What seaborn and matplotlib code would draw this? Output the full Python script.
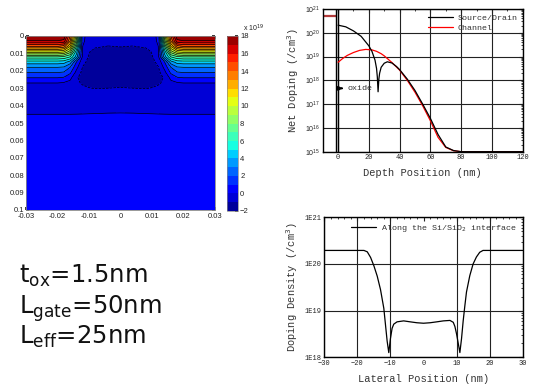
import numpy as np
import pandas as pd
import matplotlib
matplotlib.use("Agg")
import matplotlib.pyplot as plt
import seaborn as sns
from matplotlib.ticker import MultipleLocator, LogLocator, NullFormatter, FixedLocator

sns.set_theme(style="white")
plt.rcParams["font.family"] = ["Liberation Sans", "DejaVu Sans"]
plt.rcParams["mathtext.fontset"] = "dejavusans"

# ---------------- 2D net doping map (units of 1e19 /cm^3), left half ----------------
map_x_left = [-0.030, -0.020, -0.018, -0.016, -0.014, -0.012, -0.010, -0.008, -0.004, 0.0]
map_depth = [0.0, 0.003, 0.006, 0.009, 0.012, 0.015, 0.018, 0.021, 0.024, 0.027,
             0.030, 0.033, 0.040, 0.044, 0.047, 0.060, 0.100]
map_left = [
    [17.95, 17.95, 17.9, 14.0, 8.5, 0.3, -0.5, -0.5, -0.5, -0.5],
    [16.9, 16.9, 16.6, 13.0, 7.5, 0.2, -0.5, -0.5, -0.5, -0.5],
    [14.0, 14.0, 13.5, 11.0, 6.0, 0.0, -0.6, -0.8, -1.05, -0.95],
    [10.5, 10.5, 10.2, 8.5, 4.5, -0.1, -0.9, -1.5, -1.5, -1.5],
    [7.0, 7.0, 6.8, 6.0, 3.5, -0.2, -1.1, -1.5, -1.5, -1.5],
    [4.5, 4.5, 4.4, 3.5, 1.0, -0.7, -1.3, -1.5, -1.5, -1.5],
    [3.0, 3.0, 2.9, 2.0, 0.3, -1.05, -1.5, -1.5, -1.5, -1.5],
    [2.0, 2.0, 1.9, 1.2, -0.3, -1.3, -1.5, -1.5, -1.5, -1.5],
    [1.0, 1.0, 0.9, 0.3, -0.9, -1.3, -1.5, -1.5, -1.5, -1.5],
    [0.0, 0.0, -0.1, -0.3, -0.7, -1.2, -1.4, -1.5, -1.5, -1.5],
    [-0.5, -0.5, -0.5, -0.5, -0.55, -0.7, -0.95, -1.05, -1.0, -0.9],
    [-0.5, -0.5, -0.5, -0.5, -0.5, -0.5, -0.5, -0.5, -0.5, -0.5],
    [-0.5, -0.5, -0.5, -0.5, -0.5, -0.5, -0.5, -0.5, -0.5, -0.5],
    [-0.2, -0.2, -0.2, -0.2, -0.18, -0.15, -0.12, -0.1, -0.05, -0.03],
    [0.4, 0.4, 0.4, 0.4, 0.4, 0.4, 0.4, 0.4, 0.4, 0.4],
    [0.5, 0.5, 0.5, 0.5, 0.5, 0.5, 0.5, 0.5, 0.5, 0.5],
    [0.5, 0.5, 0.5, 0.5, 0.5, 0.5, 0.5, 0.5, 0.5, 0.5],
]
map_levels = list(range(-2, 19))
cbar_ticks = list(range(-2, 19, 2))
map_xticks = [-0.03, -0.02, -0.01, 0, 0.01, 0.02, 0.03]
map_xticklabels = ["-0.03", "-0.02", "-0.01", "0", "0.01", "0.02", "0.03"]
map_yticks = [0, 0.01, 0.02, 0.03, 0.04, 0.05, 0.06, 0.07, 0.08, 0.09, 0.1]
map_yticklabels = ["0", "0.01", "0.02", "0.03", "0.04", "0.05", "0.06", "0.07", "0.08", "0.09", "0.1"]

# ---------------- depth profiles ----------------
sd_x = [0, 5, 10, 15, 20, 22, 24, 25, 25.5, 26, 26.5, 27, 28, 30, 32, 35, 38, 40,
        45, 50, 55, 60, 65, 70, 75, 80, 90, 100, 110, 120]
sd_val = [2.09e20, 1.78e20, 1.20e20, 7.08e19, 2.82e19, 1.66e19, 7.08e18, 3.16e18, 1.41e18,
          3.31e17, 1.12e18, 2.0e18, 3.55e18, 5.25e18, 6.03e18, 5.37e18, 3.80e18, 2.82e18,
          1.12e18, 3.72e17, 1.0e17, 2.51e16, 5.25e15, 1.58e15, 1.12e15, 1.0e15, 1.0e15,
          1.0e15, 1.0e15, 1.0e15]
ch_x = [0, 3, 6, 10, 14, 18, 22, 25, 28, 30, 35, 40, 45, 50, 55, 60, 65, 70, 75, 80,
        90, 100, 110, 120]
ch_val = [5.75e18, 8.32e18, 1.12e19, 1.48e19, 1.82e19, 2.0e19, 1.91e19, 1.66e19, 1.32e19,
          1.07e19, 5.62e18, 2.69e18, 1.0e18, 3.16e17, 8.51e16, 2.0e16, 3.98e15, 1.51e15,
          1.10e15, 1.0e15, 1.0e15, 1.0e15, 1.0e15, 1.0e15]
gate_x = [-10, -1.5]
gate_val = [5.2e20, 5.2e20]
oxide_edges = [-1.5, 0.0]
oxide_arrow_x = [0.6, 5.0]
oxide_arrow_y = 4.6e17

# ---------------- lateral profile ----------------
lat_x = [-30, -18, -17, -16, -15, -14, -13, -12, -11.5, -11, -10.5, -10, -9.5, -9, -8, -6,
         -4, -2, 0, 2, 4, 6, 8, 9, 9.5, 10, 10.5, 11, 11.5, 12, 12.5, 13, 14, 15, 16, 17,
         18, 30]
lat_val = [1.95e20, 1.95e20, 1.82e20, 1.38e20, 9.12e19, 5.5e19, 2.82e19, 1.12e19, 5.01e18,
           2.24e18, 1.26e18, 2.51e18, 4.17e18, 5.13e18, 5.75e18, 6.03e18, 5.75e18, 5.5e18,
           5.37e18, 5.5e18, 5.75e18, 6.03e18, 6.17e18, 5.62e18, 4.57e18, 3.16e18, 2.0e18,
           1.26e18, 2.51e18, 6.03e18, 1.26e19, 2.51e19, 5.62e19, 1.0e20, 1.41e20, 1.78e20,
           1.95e20, 1.95e20]
lat_yticks = [1e18, 1e19, 1e20, 1e21]
lat_yticklabels = ["1E18", "1E19", "1E20", "1E21"]

W, H = 533, 385
fig = plt.figure(figsize=(W / 100, H / 100), dpi=100)
fig.patch.set_facecolor("white")


def rect(l, t, r, b):
    return [l / W, 1 - b / H, (r - l) / W, (b - t) / H]


# ---------------- panel 1: contour map ----------------
ax1 = fig.add_axes(rect(26, 36, 215, 210))
xs = np.array(map_x_left + [-v for v in map_x_left[-2::-1]])
Zl = np.array(map_left)
Z = np.hstack([Zl, Zl[:, -2::-1]])
cf = ax1.contourf(xs, map_depth, Z, levels=map_levels, cmap="jet")
ax1.contour(xs, map_depth, Z, levels=map_levels, colors="black", linewidths=0.5)
ax1.set_xlim(-0.03, 0.03)
ax1.set_ylim(0.1, 0)
ax1.set_xticks(map_xticks)
ax1.set_xticklabels(map_xticklabels)
ax1.set_yticks(map_yticks)
ax1.set_yticklabels(map_yticklabels)
ax1.tick_params(direction="in", length=2, labelsize=5.5, pad=1.5, colors="#222",
                top=True, right=True, bottom=True, left=True)
ax1.tick_params(axis="x", pad=2.5)
for s in ax1.spines.values():
    s.set_color("#888")
    s.set_linewidth(0.6)

cax = fig.add_axes(rect(227, 36, 238, 211))
cb = fig.colorbar(cf, cax=cax, ticks=cbar_ticks)
cb.outline.set_linewidth(0.5)
cb.outline.set_edgecolor("#888")
cax.tick_params(direction="in", length=2, labelsize=5.5, pad=1.5, colors="#222")
fig.text(243 / W, 1 - 31 / H, r"x 10$^{19}$", fontsize=5, color="#222",
         ha="left", va="baseline")

mono = "Liberation Mono"

# ---------------- panel 2: depth profile ----------------
ax2 = fig.add_axes(rect(322.7, 9, 522.7, 151.7))
ax2.set_axisbelow(True)
ax2.grid(True, which="major", color="#222", lw=0.8)
sns.lineplot(x=gate_x, y=gate_val, ax=ax2, color="#b23a3a", lw=1.6, legend=False)
for xe in oxide_edges:
    ax2.axvline(xe, color="black", lw=1.0)
sns.lineplot(x=ch_x, y=ch_val, ax=ax2, color="red", lw=0.9, label="Channel", sort=False)
sns.lineplot(x=sd_x, y=sd_val, ax=ax2, color="black", lw=0.9, label="Source/Drain", sort=False)
ax2.set_yscale("log")
ax2.set_xlim(-10, 120)
ax2.set_ylim(1e15, 1e21)
ax2.xaxis.set_major_locator(MultipleLocator(20))
ax2.xaxis.set_minor_locator(MultipleLocator(10))
ax2.yaxis.set_major_locator(LogLocator(base=10, numticks=10))
ax2.yaxis.set_minor_locator(LogLocator(base=10, subs=np.arange(2, 10), numticks=20))
ax2.yaxis.set_minor_formatter(NullFormatter())
ax2.tick_params(which="both", direction="in", top=True, right=True, colors="#222",
                labelsize=5, pad=2)
ax2.tick_params(which="major", length=3, width=0.8)
ax2.tick_params(which="minor", length=1.5, width=0.6)
for lab in ax2.get_xticklabels():
    lab.set_family(mono)
for s in ax2.spines.values():
    s.set_color("black")
    s.set_linewidth(1.0)
ax2.annotate("", xy=(oxide_arrow_x[1], oxide_arrow_y), xytext=(oxide_arrow_x[0], oxide_arrow_y),
             arrowprops=dict(arrowstyle="-|>", color="black", lw=1.2, mutation_scale=6))
ax2.text(oxide_arrow_x[1] + 1.0, oxide_arrow_y, "oxide", family=mono, fontsize=6,
         color="#333", va="center", ha="left")
ax2.set_xlabel("Depth Position (nm)", family=mono, fontsize=7.5, color="#333", labelpad=5)
ax2.set_ylabel("Net Doping (/cm$^3$)", family=mono, fontsize=7.5, color="#333", labelpad=3)
h, l = ax2.get_legend_handles_labels()
order = [l.index("Source/Drain"), l.index("Channel")]
ax2.legend([h[i] for i in order], [l[i] for i in order], loc="upper right", frameon=False,
           prop={"family": mono, "size": 6}, handlelength=3, borderaxespad=0.2,
           labelspacing=0.3, handletextpad=0.6, labelcolor="#333")

# ---------------- panel 3: lateral profile ----------------
ax3 = fig.add_axes(rect(324.3, 217.3, 522.7, 357.3))
ax3.set_axisbelow(True)
sns.lineplot(x=lat_x, y=lat_val, ax=ax3, color="black", lw=0.9,
             label="Along the Si/SiO$_2$ interface", sort=False)
ax3.set_yscale("log")
ax3.set_xlim(-30, 30)
ax3.set_ylim(1e18, 1e21)
ax3.xaxis.set_major_locator(MultipleLocator(10))
ax3.xaxis.set_minor_locator(MultipleLocator(2))
ax3.yaxis.set_major_locator(FixedLocator(lat_yticks))
ax3.set_yticklabels(lat_yticklabels)
ax3.yaxis.set_minor_locator(LogLocator(base=10, subs=np.arange(2, 10), numticks=20))
ax3.yaxis.set_minor_formatter(NullFormatter())
ax3.grid(True, which="major", color="#222", lw=0.8)
for gl, tx in zip(ax3.xaxis.get_gridlines(), ax3.get_xticks()):
    if abs(tx) < 1e-9:
        gl.set_visible(False)
ax3.tick_params(which="both", direction="in", top=True, right=True, colors="#222",
                labelsize=5, pad=2)
ax3.tick_params(which="major", length=3, width=0.8)
ax3.tick_params(which="minor", length=1.5, width=0.6)
for lab in ax3.get_xticklabels() + ax3.get_yticklabels():
    lab.set_family(mono)
for s in ax3.spines.values():
    s.set_color("black")
    s.set_linewidth(1.0)
ax3.set_xlabel("Lateral Position (nm)", family=mono, fontsize=7.5, color="#333", labelpad=5)
ax3.set_ylabel("Doping Density (/cm$^3$)", family=mono, fontsize=7.5, color="#333", labelpad=3)
ax3.legend(loc="upper right", frameon=False, prop={"family": mono, "size": 6},
           handlelength=3, borderaxespad=0.3, handletextpad=0.6, labelcolor="#333")

# ---------------- text block ----------------
params = [r"t$_{\mathrm{ox}}$=1.5nm", r"L$_{\mathrm{gate}}$=50nm", r"L$_{\mathrm{eff}}$=25nm"]
baselines = [283, 314, 344]
for txt, yb in zip(params, baselines):
    fig.text(19 / W, 1 - yb / H, txt, fontsize=17.5, family="DejaVu Sans", color="#111",
             ha="left", va="baseline")

fig.savefig("out.png", dpi=100, facecolor="white")
